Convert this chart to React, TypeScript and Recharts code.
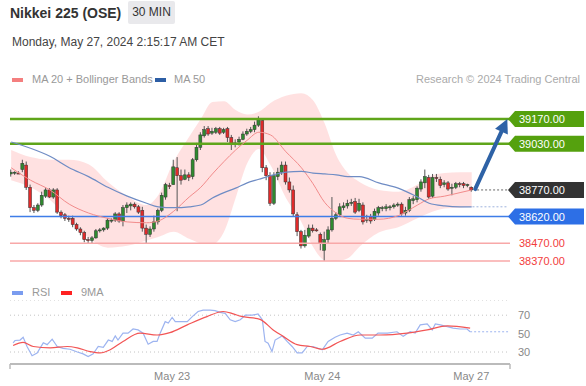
import React from 'react';
import { ComposedChart, Bar, Line, Area, XAxis, YAxis, ReferenceLine, CartesianGrid } from 'recharts';

// ---------- Candles (30 min) ----------
const candleOpen = [
  38860, 38865, 38865, 38885, 38910, 38785, 38670, 38655, 38685, 38735,
  38770, 38730, 38770, 38645, 38630, 38610, 38610, 38575, 38550, 38530,
  38490, 38485, 38500, 38540, 38545, 38555, 38595, 38600, 38635, 38595,
  38670, 38680, 38690, 38675, 38655, 38555, 38520, 38550, 38590, 38655,
  38730, 38795, 38800, 38895, 38850, 38830, 38855, 38845, 38940, 39010,
  39075, 39115, 39090, 39095, 39115, 39095, 39115, 39065, 39025, 39040,
  39055, 39085, 39100, 39110, 39135, 39160, 38895, 38850, 38695, 38845,
  38870, 38910, 38815, 38770, 38630, 38535, 38455, 38510, 38555, 38545,
  38520, 38430, 38490, 38545, 38610, 38630, 38670, 38680, 38695, 38705,
  38655, 38685, 38600, 38620, 38605, 38640, 38665, 38665, 38670, 38675,
  38685, 38690, 38640, 38655, 38710, 38715, 38775, 38810, 38840, 38735,
  38840, 38830, 38800, 38810, 38780, 38785, 38805, 38805, 38795, 38785,
];
const candleHigh = [
  38885, 38875, 38875, 38940, 38930, 38800, 38685, 38695, 38760, 38780,
  38780, 38780, 38780, 38655, 38640, 38625, 38625, 38585, 38560, 38540,
  38505, 38510, 38550, 38555, 38560, 38610, 38610, 38645, 38645, 38685,
  38700, 38700, 38700, 38685, 38675, 38575, 38565, 38625, 38665, 38755,
  38810, 38810, 38940, 38955, 38885, 38885, 38870, 38950, 39035, 39095,
  39130, 39130, 39120, 39125, 39125, 39120, 39125, 39080, 39055, 39070,
  39100, 39115, 39125, 39155, 39185, 39175, 38910, 38870, 38870, 38895,
  38930, 38930, 38840, 38795, 38645, 38545, 38545, 38575, 38575, 38555,
  38530, 38535, 38565, 38730, 38645, 38695, 38700, 38715, 38720, 38725,
  38720, 38700, 38630, 38635, 38665, 38680, 38680, 38690, 38685, 38695,
  38700, 38700, 38675, 38730, 38735, 38790, 38830, 38885, 38855, 38860,
  38860, 38845, 38825, 38820, 38805, 38815, 38815, 38815, 38805, 38790,
];
const candleLow = [
  38845, 38855, 38860, 38870, 38770, 38645, 38640, 38645, 38675, 38725,
  38725, 38720, 38635, 38610, 38595, 38590, 38560, 38540, 38515, 38475,
  38470, 38470, 38495, 38530, 38535, 38545, 38585, 38590, 38585, 38565,
  38640, 38655, 38665, 38635, 38535, 38470, 38505, 38535, 38575, 38645,
  38715, 38775, 38800, 38650, 38800, 38825, 38820, 38830, 38930, 38995,
  39065, 39075, 39080, 39085, 39080, 39085, 39040, 38995, 39010, 39020,
  39050, 39075, 39090, 39095, 39125, 38870, 38825, 38680, 38685, 38825,
  38855, 38800, 38755, 38620, 38510, 38440, 38445, 38500, 38530, 38535,
  38430, 38370, 38470, 38535, 38600, 38620, 38655, 38665, 38680, 38635,
  38645, 38575, 38585, 38580, 38595, 38625, 38650, 38650, 38655, 38665,
  38675, 38625, 38625, 38645, 38690, 38700, 38760, 38780, 38720, 38725,
  38815, 38780, 38785, 38765, 38740, 38775, 38785, 38780, 38785, 38760,
];
const candleClose = [
  38870, 38870, 38860, 38920, 38785, 38670, 38655, 38685, 38740, 38770,
  38730, 38770, 38645, 38625, 38610, 38605, 38575, 38550, 38530, 38490,
  38485, 38500, 38540, 38545, 38555, 38600, 38600, 38635, 38595, 38670,
  38685, 38690, 38675, 38645, 38555, 38520, 38550, 38590, 38655, 38740,
  38800, 38790, 38900, 38850, 38825, 38855, 38840, 38940, 39010, 39080,
  39110, 39085, 39100, 39115, 39090, 39110, 39065, 39025, 39035, 39055,
  39085, 39100, 39110, 39135, 39165, 38895, 38850, 38695, 38850, 38870,
  38910, 38815, 38770, 38635, 38535, 38455, 38515, 38555, 38540, 38540,
  38470, 38490, 38545, 38610, 38630, 38675, 38680, 38695, 38700, 38645,
  38695, 38590, 38605, 38595, 38650, 38670, 38670, 38675, 38675, 38685,
  38690, 38635, 38655, 38715, 38720, 38780, 38815, 38845, 38730, 38840,
  38835, 38795, 38810, 38775, 38785, 38805, 38800, 38795, 38800, 38770,
];

// ---------- Indicators (sampled at candle indices) ----------
const indIdx = [0, 5, 10, 15, 20, 25, 30, 35, 38, 42, 46, 49, 52, 55, 58, 61, 64, 67, 71, 75, 78, 81, 84, 87, 90, 95, 100, 105, 108, 112, 116, 119];
const bbUpper = [38995, 38955, 38940, 38940, 38915, 38815, 38735, 38685, 38740, 38930, 39070, 39170, 39265, 39270, 39220, 39195, 39210, 39260, 39300, 39315, 39275, 39145, 38965, 38865, 38815, 38770, 38760, 38800, 38845, 38865, 38870, 38870];
const bbLower = [38825, 38785, 38715, 38605, 38500, 38445, 38455, 38485, 38505, 38535, 38495, 38470, 38465, 38535, 38725, 38920, 39000, 38910, 38725, 38590, 38450, 38375, 38370, 38385, 38450, 38530, 38560, 38610, 38640, 38665, 38670, 38675];
const ma20 = [38895, 38825, 38770, 38690, 38640, 38610, 38590, 38585, 38595, 38650, 38730, 38785, 38860, 38930, 38995, 39050, 39095, 39080, 38985, 38895, 38805, 38700, 38640, 38610, 38605, 38605, 38625, 38685, 38720, 38735, 38755, 38770];
const ma50 = [39040, 39005, 38960, 38895, 38845, 38785, 38735, 38695, 38675, 38670, 38675, 38685, 38725, 38755, 38780, 38810, 38830, 38850, 38870, 38875, 38865, 38860, 38855, 38845, 38845, 38810, 38780, 38730, 38695, 38680, 38675, 38675];

const rsiSeries: [number, number][] = [
  [0.5, 40], [1, 42.5], [2.3, 43], [3.1, 46], [4.1, 36], [5.4, 26], [6.7, 29], [8.3, 40], [9.3, 38], [10.6, 44],
  [11.9, 36], [13.4, 34], [15.2, 33], [17.1, 30], [18.6, 28], [19.9, 25], [21.2, 28], [22.5, 36], [23.8, 35], [25.1, 43],
  [26.1, 41.5], [26.9, 47.5], [27.6, 43], [28.9, 50.5], [30.2, 50.5], [31.5, 55], [32.8, 54], [34.1, 50.5], [35.4, 38.5], [36.7, 41.5],
  [37.7, 41.5], [38.5, 50.5], [39.8, 63], [40.6, 61.5], [41.6, 67.5], [42.4, 63], [44.2, 63], [45.5, 63], [46.8, 68.5], [48.3, 74],
  [49.6, 75.5], [51.4, 75.5], [52.7, 75], [54, 73], [55.3, 72], [56.6, 65], [57.9, 63], [59.2, 65], [60.5, 70], [62.3, 70],
  [63.8, 71.5], [64.9, 65], [65.6, 41.5], [66.4, 39.5], [67.4, 30.5], [68.2, 43], [70, 47.5], [71.3, 41.5], [72.6, 36], [73.9, 29],
  [75.2, 29], [76.5, 36], [78, 36], [80.4, 32.5], [81.9, 41.5], [83.7, 46], [85, 48.5], [86.8, 50.5], [88.4, 48.5], [89.7, 52],
  [91.5, 45], [93.3, 45], [94.8, 50.5], [97.2, 50.5], [99.7, 52], [101.3, 47], [103.1, 52], [104.4, 50.5], [105.7, 59.5], [107.5, 60.5],
  [108.8, 54], [109.6, 60.5], [110.9, 59.5], [112.7, 57.5], [114.2, 56], [116, 55], [117.8, 55], [118.6, 52],
];
const rsiMaSeries: [number, number][] = [
  [0.5, 37], [3.1, 40.5], [5.7, 36], [10.1, 34.5], [14.5, 36], [17.1, 34.5], [20.4, 30.5], [23, 29], [25.6, 32.5], [28.9, 41.5],
  [33.3, 50.5], [37.7, 48.5], [41, 51], [45.5, 59.5], [50.6, 68.5], [54.8, 74], [57.4, 71.5], [59.2, 69], [64.3, 65.5], [67.7, 54],
  [70.3, 47], [73.9, 38], [77.3, 36], [80.4, 33], [85, 41.5], [90.2, 48.5], [95.3, 48.5], [102.3, 50.5], [107.5, 54], [112.7, 58.5],
  [118.6, 56],
];

// ---------- Levels & ticks ----------
const resistanceLevels = [39170, 39030];
const pivotLevel = 38770;
const blueSupport = 38620;
const redSupports = [38470, 38370];
const ma50End = 38675;
const rsiEnd = 52;
const dateTickPos = [41.6, 80.4, 118.9];
const dateTickLabels = ['May 23', 'May 24', 'May 27'];
const rsiTicks = [30, 50, 70];

const X_DOMAIN: [number, number] = [-0.3, 128.9];
const Y_DOMAIN: [number, number] = [38319, 39333];

const candles = candleOpen.map((o, i) => ({ i, o, h: candleHigh[i], l: candleLow[i], c: candleClose[i] }));
const bandData = indIdx.map((i, k) => ({ i, up: bbUpper[k], lo: bbLower[k], m20: ma20[k], m50: ma50[k] }));
const rsiData = rsiSeries.map(([i, v]) => ({ i, v }));
const rsiMaData = rsiMaSeries.map(([i, v]) => ({ i, v }));

const FONT = "'Liberation Sans', Arial, sans-serif";

const CandleShape = (props: any) => {
  const { x, y, width, height, payload } = props;
  const { o, h, l, c } = payload;
  const top = Math.min(y, y + height);
  const bot = Math.max(y, y + height);
  const k = h > l ? (bot - top) / (h - l) : 0;
  const yAt = (v: number) => top + (h - v) * k;
  const cx = x + width / 2;
  const up = c >= o;
  const bTop = yAt(Math.max(o, c));
  const bBot = yAt(Math.min(o, c));
  return (
    <g>
      <line x1={cx} x2={cx} y1={top} y2={bot} stroke="#555" strokeWidth={1} />
      <rect x={x} y={bTop} width={width} height={Math.max(bBot - bTop, 1)} fill={up ? '#2f8a2f' : '#e02a2a'} stroke="#333" strokeWidth={0.5} />
    </g>
  );
};

const LevelTag = (props: any) => {
  const { viewBox, val, bg, fg } = props;
  if (!viewBox) return null;
  const left = viewBox.x + viewBox.width - 2;
  const y = viewBox.y;
  const right = left + 76;
  const pts = `${left},${y} ${left + 7},${y - 8} ${right},${y - 8} ${right},${y + 8} ${left + 7},${y + 8}`;
  return (
    <g>
      {bg ? <polygon points={pts} fill={bg} /> : null}
      <text x={left + 11} y={y + 4} fill={fg} fontSize={11} fontFamily={FONT}>{val.toFixed(2)}</text>
    </g>
  );
};

const ArrowShape = (props: any) => {
  const { x1, y1, x2, y2 } = props;
  const dx = x2 - x1;
  const dy = y2 - y1;
  const len = Math.sqrt(dx * dx + dy * dy) || 1;
  const ux = dx / len;
  const uy = dy / len;
  const hl = 14;
  const hw = 7;
  const bx = x2 - ux * hl;
  const by = y2 - uy * hl;
  const px = -uy;
  const py = ux;
  return (
    <g>
      <line x1={x1} y1={y1} x2={bx} y2={by} stroke="#2e62a6" strokeWidth={4} strokeLinecap="round" />
      <polygon points={`${x2},${y2} ${bx + px * hw},${by + py * hw} ${bx - px * hw},${by - py * hw}`} fill="#2e62a6" />
    </g>
  );
};

const DateTick = (props: any) => {
  const { x, y, payload } = props;
  const v = payload.value;
  const idx = dateTickPos.indexOf(v);
  if (idx < 0) {
    return <line x1={x} x2={x} y1={y - 8} y2={y - 3} stroke="#bbb" strokeWidth={1.5} />;
  }
  return (
    <text x={x} y={y} dy="0.71em" textAnchor="middle" fill="#888" fontSize={11} fontFamily={FONT}>{dateTickLabels[idx]}</text>
  );
};

const Swatch = ({ color, left, top }: { color: string; left: number; top: number }) => (
  <div style={{ position: 'absolute', left, top, width: 11, height: 4, background: color }} />
);

const txt = (extra: React.CSSProperties): React.CSSProperties => ({ position: 'absolute', whiteSpace: 'nowrap', ...extra });

export default function App() {
  return (
    <div style={{ position: 'absolute', left: 0, top: 0, width: 586, height: 386, background: '#fff', fontFamily: FONT, overflow: 'hidden' }}>
      <div style={txt({ left: 10, top: 5, fontSize: 14, lineHeight: '16px', fontWeight: 'bold', color: '#333' })}>Nikkei 225 (OSE)</div>
      <div style={txt({ left: 128, top: 1, width: 47, height: 23, background: '#e9e9ec', borderRadius: 2, fontSize: 12, lineHeight: '23px', color: '#333', textAlign: 'center' })}>30 MIN</div>
      <div style={txt({ left: 12, top: 35, fontSize: 12, lineHeight: '14px', color: '#444' })}>Monday, May 27, 2024 2:15:17 AM CET</div>

      <Swatch color="#f47f7f" left={12} top={78} />
      <div style={txt({ left: 32, top: 73, fontSize: 11, lineHeight: '13px', color: '#999' })}>MA 20 + Bollinger Bands</div>
      <Swatch color="#2d5ea5" left={155} top={78} />
      <div style={txt({ left: 174, top: 73, fontSize: 11, lineHeight: '13px', color: '#999' })}>MA 50</div>
      <div style={txt({ right: 6, top: 73, fontSize: 11, lineHeight: '13px', color: '#aaa' })}>Research © 2024 Trading Central</div>

      <div style={{ position: 'absolute', left: 0, top: 90 }}>
        <ComposedChart width={586} height={180} data={candles} margin={{ top: 0, right: 76, bottom: 0, left: 10 }}>
          <XAxis type="number" dataKey="i" domain={X_DOMAIN} hide allowDataOverflow />
          <YAxis type="number" domain={Y_DOMAIN} hide allowDataOverflow />
          <Area data={bandData} dataKey={(d: any) => [d.lo, d.up]} type="monotone" fill="#ffdcdc" fillOpacity={0.85} stroke="none" isAnimationActive={false} />
          {resistanceLevels.map((v) => (
            <ReferenceLine key={v} y={v} stroke="#5fa51a" strokeWidth={2.5} label={<LevelTag val={v} bg="#55a10e" fg="#fff" />} />
          ))}
          <ReferenceLine y={blueSupport} stroke="#3f7de8" strokeWidth={1.5} label={<LevelTag val={blueSupport} bg="#2d6fe6" fg="#fff" />} />
          {redSupports.map((v) => (
            <ReferenceLine key={v} y={v} stroke="#f8a8a8" strokeWidth={1.5} label={<LevelTag val={v} fg="#f23c3c" />} />
          ))}
          <ReferenceLine segment={[{ x: 120.4, y: pivotLevel }, { x: X_DOMAIN[1], y: pivotLevel }]} stroke="#666" strokeDasharray="2 2" strokeWidth={1} />
          <ReferenceLine y={pivotLevel} stroke="none" label={<LevelTag val={pivotLevel} bg="#333" fg="#fff" />} />
          <ReferenceLine segment={[{ x: 119.2, y: ma50End }, { x: 128.4, y: ma50End }]} stroke="#9fb3dd" strokeDasharray="2 2" strokeWidth={1} />
          <Line data={bandData} dataKey="m20" type="monotone" stroke="#f28b8b" strokeWidth={1} dot={false} isAnimationActive={false} />
          <Line data={bandData} dataKey="m50" type="monotone" stroke="#6f8cc4" strokeWidth={1.2} dot={false} isAnimationActive={false} />
          <Bar dataKey={(d: any) => [d.l, d.h]} barSize={3} shape={CandleShape} isAnimationActive={false} />
          <ReferenceLine segment={[{ x: 119.9, y: 38775 }, { x: 128.2, y: 39170 }]} shape={ArrowShape} />
        </ComposedChart>
      </div>

      <Swatch color="#7a9cef" left={12} top={291} />
      <div style={txt({ left: 32, top: 286, fontSize: 11, lineHeight: '13px', color: '#999' })}>RSI</div>
      <Swatch color="#f22" left={61} top={291} />
      <div style={txt({ left: 81, top: 286, fontSize: 11, lineHeight: '13px', color: '#999' })}>9MA</div>

      <div style={{ position: 'absolute', left: 0, top: 300 }}>
        <ComposedChart width={586} height={86} margin={{ top: 0, right: 0, bottom: 0, left: 10 }}>
          <CartesianGrid vertical={false} stroke="#c4c4c4" strokeDasharray="1 3" />
          <XAxis
            type="number"
            dataKey="i"
            domain={X_DOMAIN}
            allowDataOverflow
            ticks={[X_DOMAIN[0], ...dateTickPos, X_DOMAIN[1]]}
            interval={0}
            tickLine={false}
            axisLine={{ stroke: '#bbb', strokeWidth: 2 }}
            tick={<DateTick />}
            height={22}
          />
          <YAxis
            orientation="right"
            type="number"
            domain={[17, 86.5]}
            ticks={rsiTicks}
            axisLine={false}
            tickLine={false}
            width={76}
            tick={{ fill: '#888', fontSize: 11 }}
            allowDataOverflow
          />
          <ReferenceLine segment={[{ x: 118.6, y: rsiEnd }, { x: 128.4, y: rsiEnd }]} stroke="#9db4f0" strokeDasharray="2 2" strokeWidth={1} />
          <Line data={rsiData} dataKey="v" type="linear" stroke="#9db4f0" strokeWidth={1.2} dot={false} isAnimationActive={false} />
          <Line data={rsiMaData} dataKey="v" type="monotone" stroke="#f25555" strokeWidth={1.2} dot={false} isAnimationActive={false} />
        </ComposedChart>
      </div>
    </div>
  );
}
